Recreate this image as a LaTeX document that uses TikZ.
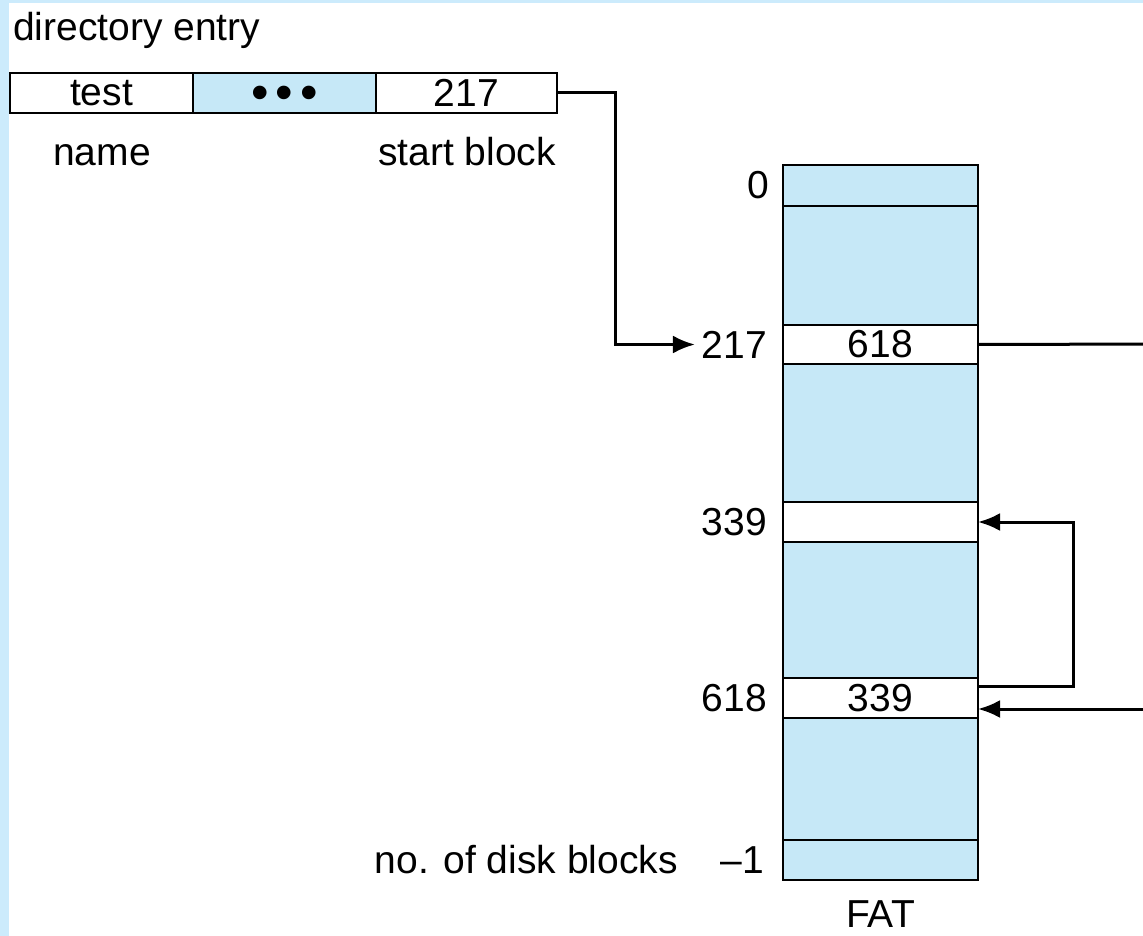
\documentclass[tikz,border=0pt]{standalone}
\usepackage{fontspec}
\setmainfont{Liberation Sans}
\usetikzlibrary{arrows.meta,positioning}
\definecolor{fatblue}{RGB}{198,232,247}
\definecolor{sideblue}{RGB}{204,235,252}

\begin{document}
\begin{tikzpicture}[x=1pt,y=-1pt,
    font=\fontsize{39pt}{47pt}\selectfont,
    every node/.style={inner sep=0pt,outer sep=0pt},
    cell/.style={draw,line width=2.4pt,minimum height=40pt},
    fatrow/.style={draw,line width=2.4pt,minimum width=195pt},
    link/.style={line width=3pt},
    ptr/.style={link,-{Latex[length=22pt,width=18pt]}}]
    \useasboundingbox (0,0) rectangle (1143,936);
    \fill[white] (0,0) rectangle (1143,936);
    \fill[sideblue] (0,0) rectangle (9,936);
    \fill[sideblue] (0,0) rectangle (1143,3);

    \node[anchor=base west] (dirlbl) at (13,41) {directory entry};
    \node[cell,minimum width=183pt,anchor=north west] (test) at (10,73) {test};
    \node[cell,minimum width=183pt,fill=fatblue,right=0pt of test] (dots) {};
    \node (dotstxt) at ([yshift=-5pt]dots.center)
        {\fontsize{50pt}{55pt}\selectfont •\hskip7pt•\hskip7pt•};
    \node[cell,minimum width=181pt,right=0pt of dots] (blk) {217};
    \node[anchor=base] (name) at (102,166) {name};
    \node[anchor=base] (startlbl) at (467,166) {start block};

    \node[fatrow,fill=fatblue,minimum height=41pt,anchor=north west] (r0) at (783,165) {};
    \node[fatrow,fill=fatblue,minimum height=119pt,below=0pt of r0] (g1) {};
    \node[fatrow,fill=white,minimum height=39pt,below=0pt of g1] (r217) {618};
    \node[fatrow,fill=fatblue,minimum height=138pt,below=0pt of r217] (g2) {};
    \node[fatrow,fill=white,minimum height=40pt,below=0pt of g2] (r339) {};
    \node[fatrow,fill=fatblue,minimum height=136pt,below=0pt of r339] (g3) {};
    \node[fatrow,fill=white,minimum height=40pt,below=0pt of g3] (r618) {339};
    \node[fatrow,fill=fatblue,minimum height=122pt,below=0pt of r618] (g4) {};
    \node[fatrow,fill=fatblue,minimum height=40pt,below=0pt of g4] (rend) {};

    \node[left=14pt of r0] (l0) {0};
    \node[left=16pt of r217] (l217) {217};
    \node[left=16pt of r339] (l339) {339};
    \node[left=16pt of r618] (l618) {618};
    \node[left=19pt of rend] (lend) {–1};
    \node[base left=43pt of lend] (nblocks) {no. of disk blocks};
    \node[below=21pt of rend] (fat) {FAT};

    \coordinate (outA) at (1160,344);
    \coordinate (outB) at (1160,709);

    \draw[ptr,shorten >=7pt] (blk.east) -- ++(58,0) |- (l217.west);
    \draw[link] (r217.east) -- (outA);
    \draw[ptr] ([yshift=12pt]r618.east) -- ++(95,0) |- (r339.east);
    \draw[ptr] (outB) -- ([yshift=-11pt]r618.east);
\end{tikzpicture}
\end{document}
